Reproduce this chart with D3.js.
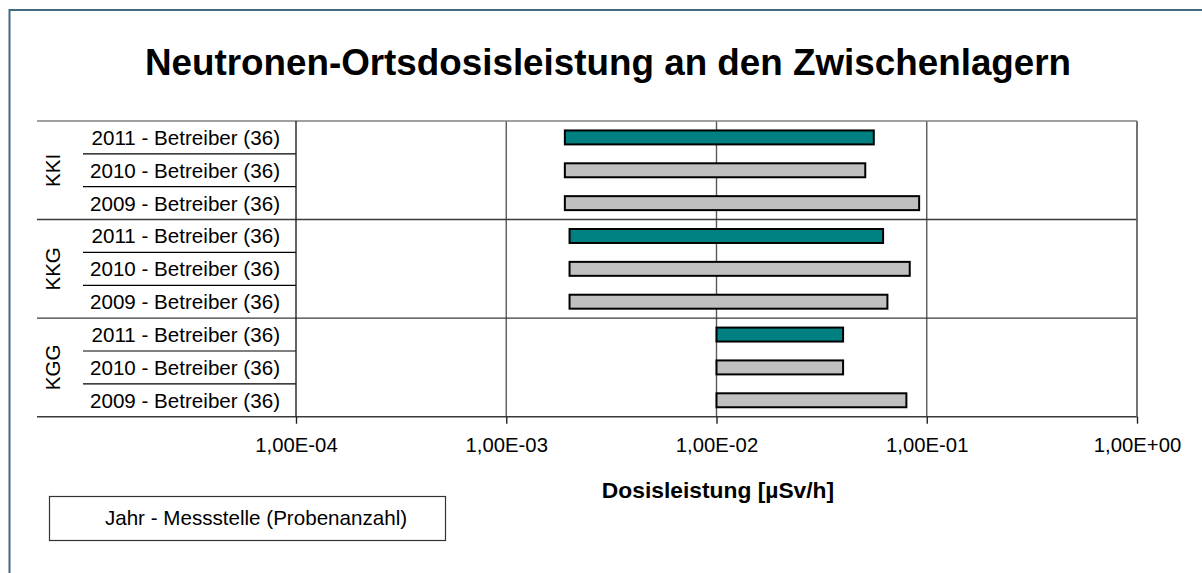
<html>
<head>
  <style>
    body {
      margin: 0;
      background: #ffffff;
      font-family: "Liberation Sans", Arial, sans-serif;
    }
    svg text {
      fill: #000;
    }
  </style>
</head>

<body>
  <div id="chart"></div>

  <script src="https://d3js.org/d3.v7.min.js"></script>
  <script>
    // data
    var groups = ["KKI", "KKG", "KGG"];
    var rowLabels = ["2011 - Betreiber (36)", "2010 - Betreiber (36)", "2009 - Betreiber (36)"];
    var rowYears = [2011, 2010, 2009];
    var minValues = [0.0019, 0.0019, 0.0019, 0.002, 0.002, 0.002, 0.01, 0.01, 0.01];
    var maxValues = [0.056, 0.051, 0.092, 0.062, 0.083, 0.065, 0.04, 0.04, 0.08];
    var tickValues = [1e-4, 1e-3, 1e-2, 1e-1, 1];
    var tickLabels = ["1,00E-04", "1,00E-03", "1,00E-02", "1,00E-01", "1,00E+00"];

    var width = 1202,
        height = 573,
        plotLeft = 296,
        plotRight = 1137,
        plotTop = 121,
        plotBottom = 416.7,
        labelLeft = 83,
        groupLeft = 37;

    var rows = [];
    groups.forEach(function (g, gi) {
      rowLabels.forEach(function (l, ri) {
        var i = gi * rowLabels.length + ri;
        rows.push({ id: g + "-" + ri, group: g, label: l, year: rowYears[ri], min: minValues[i], max: maxValues[i] });
      });
    });

    var svg = d3.select("#chart")
      .append("svg")
      .attr("width", width)
      .attr("height", height);

    // outer frame
    svg.append("rect")
      .attr("x", 9.5).attr("y", 10)
      .attr("width", 1300).attr("height", 700)
      .attr("fill", "none")
      .attr("stroke", "#3f6a80")
      .attr("stroke-width", 2);

    svg.append("text")
      .attr("x", 608).attr("y", 75)
      .attr("text-anchor", "middle")
      .style("font-size", "36.8px")
      .style("font-weight", "bold")
      .text("Neutronen-Ortsdosisleistung an den Zwischenlagern");

    var x = d3.scaleLog().domain([1e-4, 1]).range([plotLeft, plotRight]);

    var y = d3.scaleBand()
      .domain(rows.map(function (d) { return d.id; }))
      .range([plotTop, plotBottom])
      .paddingInner(0.575)
      .paddingOuter(0.2875);

    var step = y.step();

    // vertical gridlines
    svg.append("g").selectAll("line")
      .data(tickValues.slice(1))
      .enter().append("line")
      .attr("x1", function (d) { return x(d); })
      .attr("x2", function (d) { return x(d); })
      .attr("y1", plotTop).attr("y2", plotBottom)
      .attr("stroke", "#5a5a5a")
      .attr("stroke-width", 1.4);

    // group separators (extend across plot)
    var groupEdges = [0, 3, 6, 9];
    svg.append("g").selectAll("line")
      .data(groupEdges)
      .enter().append("line")
      .attr("x1", groupLeft).attr("x2", plotRight)
      .attr("y1", function (d) { return plotTop + d * step; })
      .attr("y2", function (d) { return plotTop + d * step; })
      .attr("stroke", function (d, i) { return i == 0 ? "#808080" : "#3a3a3a"; })
      .attr("stroke-width", 1.4);

    // row separators in the label column
    svg.append("g").selectAll("line")
      .data([1, 2, 4, 5, 7, 8])
      .enter().append("line")
      .attr("x1", labelLeft).attr("x2", plotLeft)
      .attr("y1", function (d) { return plotTop + d * step; })
      .attr("y2", function (d) { return plotTop + d * step; })
      .attr("stroke", "#000")
      .attr("stroke-width", 1.2);

    // category axis line
    svg.append("line")
      .attr("x1", plotLeft).attr("x2", plotLeft)
      .attr("y1", plotTop).attr("y2", plotBottom)
      .attr("stroke", "#222")
      .attr("stroke-width", 1.4);

    // plot right border
    svg.append("line")
      .attr("x1", plotRight).attr("x2", plotRight)
      .attr("y1", plotTop).attr("y2", plotBottom)
      .attr("stroke", "#6a6a6a")
      .attr("stroke-width", 1.4);

    // bars
    svg.append("g").selectAll("rect")
      .data(rows)
      .enter().append("rect")
      .attr("x", function (d) { return x(d.min); })
      .attr("width", function (d) { return x(d.max) - x(d.min); })
      .attr("y", function (d) { return y(d.id); })
      .attr("height", y.bandwidth())
      .attr("fill", function (d) { return d.year == 2011 ? "#008080" : "#c0c0c0"; })
      .attr("stroke", "#000")
      .attr("stroke-width", 2);

    // row labels
    svg.append("g").selectAll("text")
      .data(rows)
      .enter().append("text")
      .attr("x", 280)
      .attr("y", function (d) { return y(d.id) + y.bandwidth() / 2; })
      .attr("dy", "0.36em")
      .attr("text-anchor", "end")
      .style("font-size", "20.6px")
      .text(function (d) { return d.label; });

    // group labels
    svg.append("g").selectAll("text")
      .data(groups)
      .enter().append("text")
      .attr("transform", function (d, i) {
        return "translate(53," + (plotTop + (i * 3 + 1.5) * step) + ") rotate(-90)";
      })
      .attr("dy", "0.36em")
      .attr("text-anchor", "middle")
      .style("font-size", "20.6px")
      .text(function (d) { return d; });

    // x axis
    var xAxis = d3.axisBottom(x)
      .tickValues(tickValues)
      .tickSize(7)
      .tickPadding(14)
      .tickFormat(function (d, i) { return tickLabels[i]; });

    var gx = svg.append("g")
      .attr("transform", "translate(0," + plotBottom + ")")
      .call(xAxis);
    gx.select(".domain").remove();
    gx.selectAll(".tick line").attr("stroke", "#222").attr("stroke-width", 1.4);
    gx.selectAll(".tick text")
      .style("font-family", "\"Liberation Sans\", Arial, sans-serif")
      .style("font-size", "20.3px")
      .attr("fill", "#000");

    svg.append("text")
      .attr("x", 718).attr("y", 498)
      .attr("text-anchor", "middle")
      .style("font-size", "22.8px")
      .style("font-weight", "bold")
      .text("Dosisleistung [µSv/h]");

    // legend box
    svg.append("rect")
      .attr("x", 49.5).attr("y", 496.5)
      .attr("width", 396).attr("height", 44)
      .attr("fill", "#fff")
      .attr("stroke", "#333")
      .attr("stroke-width", 1.2);

    svg.append("text")
      .attr("x", 256).attr("y", 525)
      .attr("text-anchor", "middle")
      .style("font-size", "20.6px")
      .text("Jahr - Messstelle (Probenanzahl)");
  </script>
</body>
</html>
